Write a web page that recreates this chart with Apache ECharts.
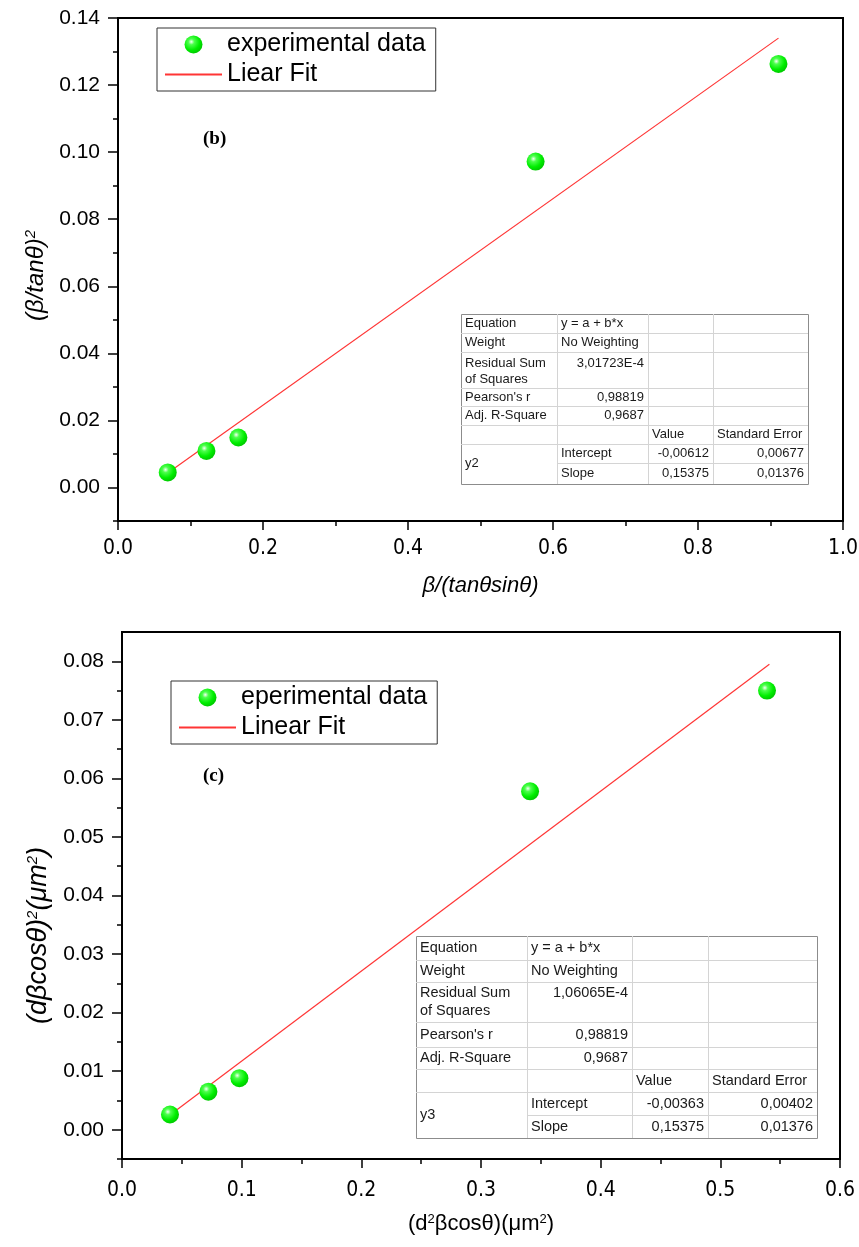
<!DOCTYPE html>
<html>
<head>
<meta charset="utf-8">
<script src="https://cdn.jsdelivr.net/npm/echarts@6.0.0/dist/echarts.min.js"></script>
<style>
  html, body { margin: 0; padding: 0; background: #fff; }
  #chart { width: 859px; height: 1247px; }
</style>
</head>
<body>
<div id="chart"></div>
<script>
// ---- panel (b) ----
const bPointsX = [0.0686, 0.122, 0.166, 0.576, 0.911]
const bPointsY = [0.0045, 0.0109, 0.0149, 0.0972, 0.1263]
const bFitX = [0.0686, 0.911]
const bFitY = [0.0043, 0.1340]
const bXLabels = [0, 0.2, 0.4, 0.6, 0.8, 1.0]
const bXMinor = [0.1, 0.3, 0.5, 0.7, 0.9]
const bYLabels = [0, 0.02, 0.04, 0.06, 0.08, 0.10, 0.12, 0.14]
const bYMinor = [-0.01, 0.01, 0.03, 0.05, 0.07, 0.09, 0.11, 0.13]
const bTableRows = [
  ['Equation', 'y = a + b*x', '', ''],
  ['Weight', 'No Weighting', '', ''],
  ['Residual Sum\nof Squares', '3,01723E-4', '', ''],
  ["Pearson's r", '0,98819', '', ''],
  ['Adj. R-Square', '0,9687', '', ''],
  ['', '', 'Value', 'Standard Error'],
  ['y2', 'Intercept', '-0,00612', '0,00677'],
  ['', 'Slope', '0,15375', '0,01376']
]

// ---- panel (c) ----
const cPointsX = [0.0401, 0.0722, 0.0981, 0.341, 0.539]
const cPointsY = [0.0026, 0.0065, 0.0088, 0.0578, 0.0750]
const cFitX = [0.0401, 0.541]
const cFitY = [0.0025, 0.0795]
const cXLabels = [0, 0.1, 0.2, 0.3, 0.4, 0.5, 0.6]
const cXMinor = [0.05, 0.15, 0.25, 0.35, 0.45, 0.55]
const cYLabels = [0, 0.01, 0.02, 0.03, 0.04, 0.05, 0.06, 0.07, 0.08]
const cYMinor = [-0.005, 0.005, 0.015, 0.025, 0.035, 0.045, 0.055, 0.065, 0.075]
const cTableRows = [
  ['Equation', 'y = a + b*x', '', ''],
  ['Weight', 'No Weighting', '', ''],
  ['Residual Sum\nof Squares', '1,06065E-4', '', ''],
  ["Pearson's r", '0,98819', '', ''],
  ['Adj. R-Square', '0,9687', '', ''],
  ['', '', 'Value', 'Standard Error'],
  ['y3', 'Intercept', '-0,00363', '0,00402'],
  ['', 'Slope', '0,15375', '0,01376']
]

const zip = (xs, ys) => xs.map((x, i) => [x, ys[i]])
const AR = 'Arial, "Liberation Sans", sans-serif'
const NARROW = '"Liberation Sans Narrow", "Arial Narrow", "DejaVu Sans Condensed", Arial, sans-serif'

const ball = {
  type: 'radial', x: 0.38, y: 0.35, r: 0.65,
  colorStops: [
    { offset: 0, color: '#f4fff4' },
    { offset: 0.25, color: '#4dff4d' },
    { offset: 0.7, color: '#00ee00' },
    { offset: 1, color: '#00cc00' }
  ]
}

function mainX (grid, min, max, labels, gap, name, italic, margin) {
  return {
    gridIndex: grid, type: 'value', min: min, max: max, position: 'bottom',
    name: name, nameLocation: 'middle', nameGap: gap,
    nameTextStyle: { fontSize: 22, fontFamily: AR, fontStyle: italic ? 'italic' : 'normal', color: '#000',
      rich: { s: { fontSize: 13, verticalAlign: 'top', fontFamily: AR, fontStyle: italic ? 'italic' : 'normal', padding: [0, 0, 8, 0] } } },
    axisLine: { show: true, onZero: false, lineStyle: { color: '#000', width: 2 } },
    axisTick: { show: true, inside: false, length: 9, customValues: labels, lineStyle: { color: '#000', width: 1.5 } },
    axisLabel: { customValues: labels, margin: margin, fontSize: 21, fontFamily: NARROW, color: '#000', formatter: v => v.toFixed(1) },
    splitLine: { show: false }
  }
}
function minorX (grid, min, max, ticks) {
  return {
    gridIndex: grid, type: 'value', min: min, max: max, position: 'bottom',
    axisLine: { show: false, onZero: false },
    axisTick: { show: true, length: 5, customValues: ticks, lineStyle: { color: '#000', width: 1.5 } },
    axisLabel: { show: false }, splitLine: { show: false }
  }
}
function mainY (grid, min, max, labels, gap, name, size, pad) {
  return {
    gridIndex: grid, type: 'value', min: min, max: max, position: 'left',
    name: name, nameLocation: 'middle', nameGap: gap,
    nameTextStyle: { fontSize: size, fontFamily: AR, fontStyle: 'italic', color: '#000', padding: pad,
      rich: { s: { fontSize: 15, verticalAlign: 'top', fontFamily: AR, fontStyle: 'italic', padding: [0, 0, 10, 0] } } },
    axisLine: { show: true, onZero: false, lineStyle: { color: '#000', width: 2 } },
    axisTick: { show: true, length: 10, customValues: labels, lineStyle: { color: '#000', width: 1.5 } },
    axisLabel: { customValues: labels, margin: 18, fontSize: 21, fontFamily: AR, color: '#000', formatter: v => v.toFixed(2) },
    splitLine: { show: false }
  }
}
function minorY (grid, min, max, ticks) {
  return {
    gridIndex: grid, type: 'value', min: min, max: max, position: 'left',
    axisLine: { show: false, onZero: false },
    axisTick: { show: true, length: 5, customValues: ticks, lineStyle: { color: '#000', width: 1.5 } },
    axisLabel: { show: false }, splitLine: { show: false }
  }
}

// fit-statistics table drawn as graphic rects/lines/texts
function table (x0, y0, colW, rowH, rows, fs) {
  const els = []
  const W = colW.reduce((a, b) => a + b, 0)
  const H = rowH.reduce((a, b) => a + b, 0)
  const isNum = t => /^-?[\d,]+(E-\d+)?$/.test(t)
  els.push({ type: 'rect', z: 50, shape: { x: x0 + 0.5, y: y0 + 0.5, width: W, height: H },
    style: { fill: '#fff', stroke: '#8c8c8c', lineWidth: 1 } })
  let yy = y0
  for (let r = 0; r < rowH.length - 1; r++) {
    yy += rowH[r]
    const sx = (r === rowH.length - 2) ? x0 + colW[0] : x0
    els.push({ type: 'line', z: 51, shape: { x1: sx, y1: Math.round(yy) + 0.5, x2: x0 + W, y2: Math.round(yy) + 0.5 },
      style: { stroke: '#d4d4d4', lineWidth: 1 } })
  }
  let xx = x0
  for (let c = 0; c < colW.length - 1; c++) {
    xx += colW[c]
    els.push({ type: 'line', z: 51, shape: { x1: Math.round(xx) + 0.5, y1: y0, x2: Math.round(xx) + 0.5, y2: y0 + H },
      style: { stroke: '#d4d4d4', lineWidth: 1 } })
  }
  let ry = y0
  rows.forEach((row, r) => {
    let cx = x0
    row.forEach((t, c) => {
      if (t) {
        const right = isNum(t)
        const multi = r === 2
        const merged = c === 0 && r === rows.length - 2
        let ty = multi ? ry + 3 : ry + rowH[r] / 2
        if (merged) ty = ry + rowH[r]
        els.push({ type: 'text', z: 52, style: {
          text: t, x: right ? cx + colW[c] - 4 : cx + 4, y: ty,
          font: fs + 'px Arial, "Liberation Sans", sans-serif', fill: '#1a1a1a', lineHeight: fs + 3,
          textAlign: right ? 'right' : 'left', align: right ? 'right' : 'left',
          textVerticalAlign: multi ? 'top' : 'middle', verticalAlign: multi ? 'top' : 'middle'
        } })
      }
      cx += colW[c]
    })
    ry += rowH[r]
  })
  return els
}

const legendBase = {
  orient: 'vertical', borderColor: '#333', borderWidth: 1, padding: [4, 10, 4, 7], itemGap: 5,
  itemWidth: 57, itemHeight: 18,
  textStyle: { fontSize: 25, fontFamily: AR, color: '#000' }
}

const chart = echarts.init(document.getElementById('chart'), null, { renderer: 'canvas' })

chart.setOption({
  animation: false,
  backgroundColor: '#fff',
  grid: [
    { left: 118, top: 18, right: 16, bottom: 726, show: true, borderColor: '#000', borderWidth: 2, outerBoundsMode: 'none' },
    { left: 122, top: 632, right: 19, bottom: 88, show: true, borderColor: '#000', borderWidth: 2, outerBoundsMode: 'none' }
  ],
  xAxis: [
    mainX(0, 0, 1.0, bXLabels, 54, 'β/(tanθsinθ)', true, 17),
    minorX(0, 0, 1.0, bXMinor),
    mainX(1, 0, 0.6, cXLabels, 54, '(d{s|2}βcosθ)(μm{s|2})', false, 21),
    minorX(1, 0, 0.6, cXMinor)
  ],
  yAxis: [
    mainY(0, -0.01, 0.14, bYLabels, 52, '(β/tanθ){s|2}', 24, [0, 12, 0, 0]),
    minorY(0, -0.01, 0.14, bYMinor),
    mainY(1, -0.005, 0.085, cYLabels, 52, '(dβcosθ){s|2}(μm{s|2})', 27, [0, 80, 0, 0]),
    minorY(1, -0.005, 0.085, cYMinor)
  ],
  legend: [
    Object.assign({}, legendBase, {
      left: 157, top: 28,
      data: ['experimental data', { name: 'Liear Fit', itemStyle: { opacity: 0 } }]
    }),
    Object.assign({}, legendBase, {
      left: 171, top: 681,
      data: ['eperimental data', { name: 'Linear Fit', itemStyle: { opacity: 0 } }]
    })
  ],
  series: [
    { name: 'Liear Fit', type: 'line', xAxisIndex: 0, yAxisIndex: 0, data: zip(bFitX, bFitY),
      symbol: 'none', lineStyle: { color: '#ff3535', width: 1.2 }, itemStyle: { color: '#ff3535' }, z: 2 },
    { name: 'experimental data', type: 'scatter', xAxisIndex: 0, yAxisIndex: 0, data: zip(bPointsX, bPointsY),
      symbolSize: 18, itemStyle: { color: ball, opacity: 1 }, z: 3 },
    { name: 'Linear Fit', type: 'line', xAxisIndex: 2, yAxisIndex: 2, data: zip(cFitX, cFitY),
      symbol: 'none', lineStyle: { color: '#ff3535', width: 1.2 }, itemStyle: { color: '#ff3535' }, z: 2 },
    { name: 'eperimental data', type: 'scatter', xAxisIndex: 2, yAxisIndex: 2, data: zip(cPointsX, cPointsY),
      symbolSize: 18, itemStyle: { color: ball, opacity: 1 }, z: 3 }
  ],
  graphic: [
    { type: 'text', left: 203, top: 130, style: { text: '(b)', font: 'bold 19px "Liberation Serif", "Times New Roman", serif', fill: '#000' } },
    { type: 'text', left: 203, top: 767, style: { text: '(c)', font: 'bold 19px "Liberation Serif", "Times New Roman", serif', fill: '#000' } }
  ].concat(
    table(461, 314, [96, 91, 65, 95], [19, 19, 36, 18, 19, 19, 19, 21], bTableRows, 13),
    table(416, 936, [111, 105, 76, 109], [24, 21.5, 40.5, 25, 22, 23, 23, 23], cTableRows, 14.5)
  )
})
</script>
</body>
</html>
